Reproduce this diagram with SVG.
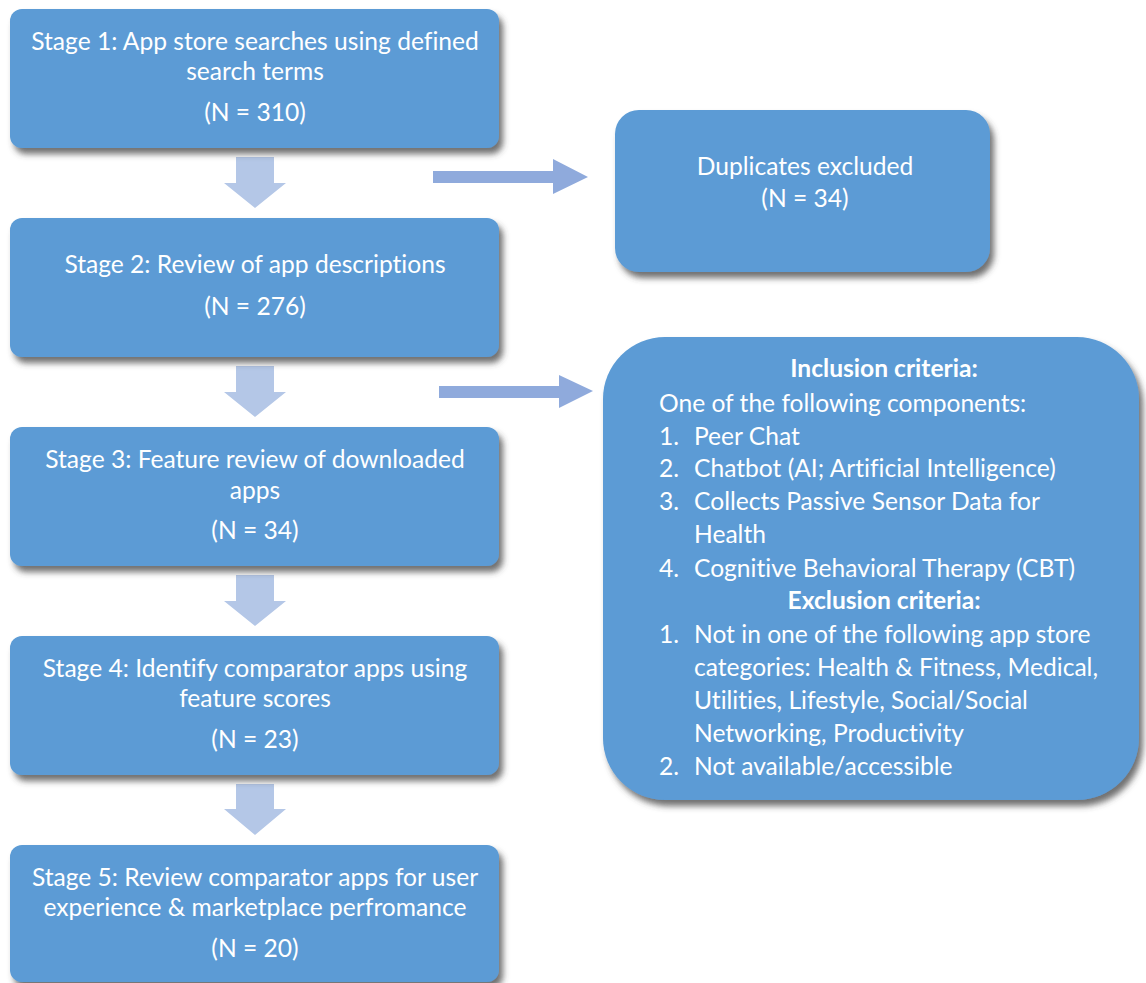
<svg xmlns="http://www.w3.org/2000/svg" width="1146" height="983" viewBox="0 0 1146 983">
<defs>
<filter id="sh" x="-10%" y="-10%" width="125%" height="130%">
<feDropShadow dx="4" dy="6" stdDeviation="3" flood-color="#404040" flood-opacity="0.75"/>
</filter>
</defs>
<style>
.box{fill:#5b9bd5;filter:url(#sh)}
.t{font-family:Lato,"Open Sans",sans-serif;font-size:24.6px;fill:#ffffff;font-variant-ligatures:none}
.c{text-anchor:middle}
.b{font-weight:bold}
.down{fill:#b4c7e7}
.right{fill:#8faadc}
</style>
<rect width="1146" height="983" fill="#ffffff"/>
<g id="connectors">
<polygon class="down" points="236,157 274,157 274,183 286,183 255,208 224,183 236,183"/>
<polygon class="down" points="236,366 274,366 274,392 286,392 255,417 224,392 236,392"/>
<polygon class="down" points="236,575 274,575 274,601 286,601 255,626 224,601 236,601"/>
<polygon class="down" points="236,784 274,784 274,809 286,809 255,835 224,809 236,809"/>
<polygon class="right" points="433,171 553,171 553,159 588,177 553,194 553,183 433,183"/>
<polygon class="right" points="439,386 559,386 559,375 593,391 559,408 559,398 439,398"/>
</g>
<g id="stage1">
<rect class="box" x="10" y="9" width="489" height="139" rx="12"/>
<text class="t c" x="255" y="50">Stage 1: App store searches using defined</text>
<text class="t c" x="255" y="80">search terms</text>
<text class="t c" x="255" y="121">(N = 310)</text>
</g>
<g id="stage2">
<rect class="box" x="10" y="218" width="489" height="139" rx="12"/>
<text class="t c" x="255" y="273">Stage 2: Review of app descriptions</text>
<text class="t c" x="255" y="315">(N = 276)</text>
</g>
<g id="stage3">
<rect class="box" x="10" y="427" width="489" height="139" rx="12"/>
<text class="t c" x="255" y="468">Stage 3: Feature review of downloaded</text>
<text class="t c" x="255" y="499">apps</text>
<text class="t c" x="255" y="539">(N = 34)</text>
</g>
<g id="stage4">
<rect class="box" x="10" y="636" width="489" height="139" rx="12"/>
<text class="t c" x="255" y="677">Stage 4: Identify comparator apps using</text>
<text class="t c" x="255" y="707">feature scores</text>
<text class="t c" x="255" y="748">(N = 23)</text>
</g>
<g id="stage5">
<rect class="box" x="10" y="845" width="489" height="137" rx="12"/>
<text class="t c" x="255" y="886">Stage 5: Review comparator apps for user</text>
<text class="t c" x="255" y="916">experience &amp; marketplace perfromance</text>
<text class="t c" x="255" y="957">(N = 20)</text>
</g>
<g id="duplicates">
<rect class="box" x="615" y="110" width="375" height="162" rx="24"/>
<text class="t c" x="805" y="175">Duplicates excluded</text>
<text class="t c" x="805" y="207">(N = 34)</text>
</g>
<g id="criteria">
<rect class="box" x="603" y="337" width="536" height="463" rx="62"/>
<text class="t c b" x="884" y="377">Inclusion criteria:</text>
<text class="t" x="659" y="412">One of the following components:</text>
<text class="t" x="659" y="445">1.</text><text class="t" x="694" y="445">Peer Chat</text>
<text class="t" x="659" y="477">2.</text><text class="t" x="694" y="477">Chatbot (AI; Artificial Intelligence)</text>
<text class="t" x="659" y="510">3.</text><text class="t" x="694" y="510">Collects Passive Sensor Data for</text>
<text class="t" x="694" y="543">Health</text>
<text class="t" x="659" y="577">4.</text><text class="t" x="694" y="577">Cognitive Behavioral Therapy (CBT)</text>
<text class="t c b" x="884" y="609">Exclusion criteria:</text>
<text class="t" x="659" y="643">1.</text><text class="t" x="694" y="643">Not in one of the following app store</text>
<text class="t" x="694" y="676">categories: Health &amp; Fitness, Medical,</text>
<text class="t" x="694" y="709">Utilities, Lifestyle, Social/Social</text>
<text class="t" x="694" y="742">Networking, Productivity</text>
<text class="t" x="659" y="775">2.</text><text class="t" x="694" y="775">Not available/accessible</text>
</g>
</svg>
